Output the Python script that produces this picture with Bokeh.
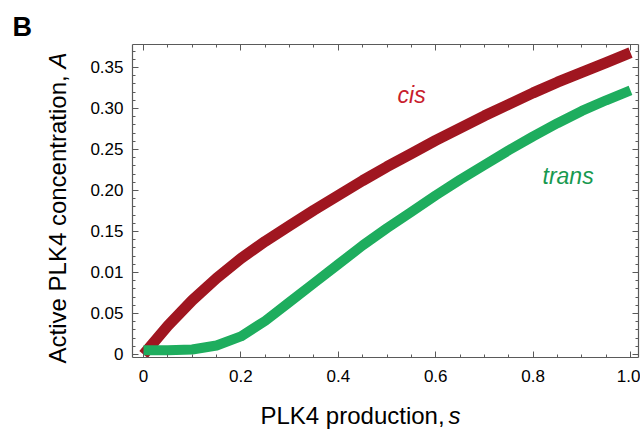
import math
from bokeh.plotting import figure
from bokeh.models import Range1d, FixedTicker, LinearAxis, Label
from bokeh.embed import file_html
from bokeh.resources import INLINE

# ---- data ----
s_values = [0.0, 0.05, 0.1, 0.15, 0.2, 0.25, 0.3, 0.35, 0.4, 0.45, 0.5,
            0.55, 0.6, 0.65, 0.7, 0.75, 0.8, 0.85, 0.9, 0.95, 1.0]
cis_A = [0.0, 0.035, 0.066, 0.093, 0.117, 0.138, 0.157, 0.176, 0.194, 0.212, 0.229,
         0.245, 0.261, 0.276, 0.291, 0.305, 0.319, 0.332, 0.344, 0.356, 0.368]
trans_A = [0.005, 0.005, 0.006, 0.011, 0.022, 0.041, 0.064, 0.087, 0.110, 0.133, 0.154,
           0.174, 0.194, 0.213, 0.231, 0.249, 0.266, 0.282, 0.297, 0.310, 0.322]

x_ticks = [0.0, 0.2, 0.4, 0.6, 0.8, 1.0]
x_tick_labels = ["0", "0.2", "0.4", "0.6", "0.8", "1.0"]
y_ticks = [0.0, 0.05, 0.1, 0.15, 0.2, 0.25, 0.3, 0.35]
y_tick_labels = ["0", "0.05", "0.01", "0.15", "0.20", "0.25", "0.30", "0.35"]

FONT = "Liberation Sans"
AXIS_COLOR = "#5a5a5a"
CIS_LINE = "#A01620"
TRANS_LINE = "#1EAD5E"
CIS_TEXT = "#C8202C"
TRANS_TEXT = "#17994F"

x_minor = [round(i * 0.05, 2) for i in range(0, 21)]
y_minor = [round(i * 0.01, 2) for i in range(0, 38)]

p = figure(width=640, height=430,
           x_range=Range1d(-0.0226, 1.0164), y_range=Range1d(-0.0037, 0.378),
           output_backend="svg", toolbar_location=None,
           min_border_left=132, min_border_right=2, min_border_top=44, min_border_bottom=73)
p.grid.visible = False
p.outline_line_color = None
p.background_fill_color = "white"
p.border_fill_color = "white"

xt = FixedTicker(ticks=x_ticks, minor_ticks=x_minor)
yt = FixedTicker(ticks=y_ticks, minor_ticks=y_minor)

def style_axis(ax, show_labels, standoff):
    ax.axis_line_color = AXIS_COLOR
    ax.axis_line_width = 1.2
    ax.major_tick_line_color = AXIS_COLOR
    ax.minor_tick_line_color = AXIS_COLOR
    ax.major_tick_in = 6
    ax.major_tick_out = 0
    ax.minor_tick_in = 3
    ax.minor_tick_out = 0
    ax.major_label_standoff = standoff
    if show_labels:
        ax.major_label_text_font = FONT
        ax.major_label_text_font_size = "17px"
        ax.major_label_text_color = "black"
    else:
        ax.major_label_text_font_size = "0px"
        ax.major_label_text_alpha = 0

p.xaxis.ticker = xt
p.yaxis.ticker = yt
p.xaxis.major_label_overrides = {t: l for t, l in zip(x_ticks, x_tick_labels)}
p.yaxis.major_label_overrides = {t: l for t, l in zip(y_ticks, y_tick_labels)}
style_axis(p.xaxis[0], True, 12)
style_axis(p.yaxis[0], True, 9)

top_ax = LinearAxis(ticker=FixedTicker(ticks=x_ticks, minor_ticks=x_minor))
right_ax = LinearAxis(ticker=FixedTicker(ticks=y_ticks, minor_ticks=y_minor))
style_axis(top_ax, False, 0)
style_axis(right_ax, False, 0)
p.add_layout(top_ax, "above")
p.add_layout(right_ax, "right")

p.line(s_values, cis_A, line_color=CIS_LINE, line_width=11, line_join="round")
p.line(s_values, trans_A, line_color=TRANS_LINE, line_width=10, line_join="round")

def lab(x, y, text, size, color="black", style="normal", angle=0.0, align="left", place="center"):
    p.add_layout(Label(x=x, y=y, text=text, text_font=FONT, text_font_size=size,
                       text_color=color, text_font_style=style, angle=angle,
                       text_align=align, text_baseline="alphabetic"), place)

# curve labels
lab(0.5216, 0.3159, "cis", "23px", CIS_TEXT, "italic")
lab(0.8193, 0.2171, "trans", "23px", TRANS_TEXT, "italic")

# axis titles (placed in side panels so they are not clipped to the frame;
# panels chosen so that their sizes stay within the borders)
lab(0.2402, -0.0744, "PLK4 production,", "24px", place="below")
lab(0.6263, -0.0744, "s", "24px", style="italic", place="left")
lab(-0.1756, -0.011, "Active PLK4 concentration,", "24px", angle=math.pi / 2, place="left")
lab(-0.1756, 0.3488, "A", "24px", style="italic", angle=math.pi / 2, place="left")

# panel letter
lab(-0.269, 0.3988, "B", "27px", style="bold", place="above")

open("out.html", "w").write(file_html(p, INLINE))
